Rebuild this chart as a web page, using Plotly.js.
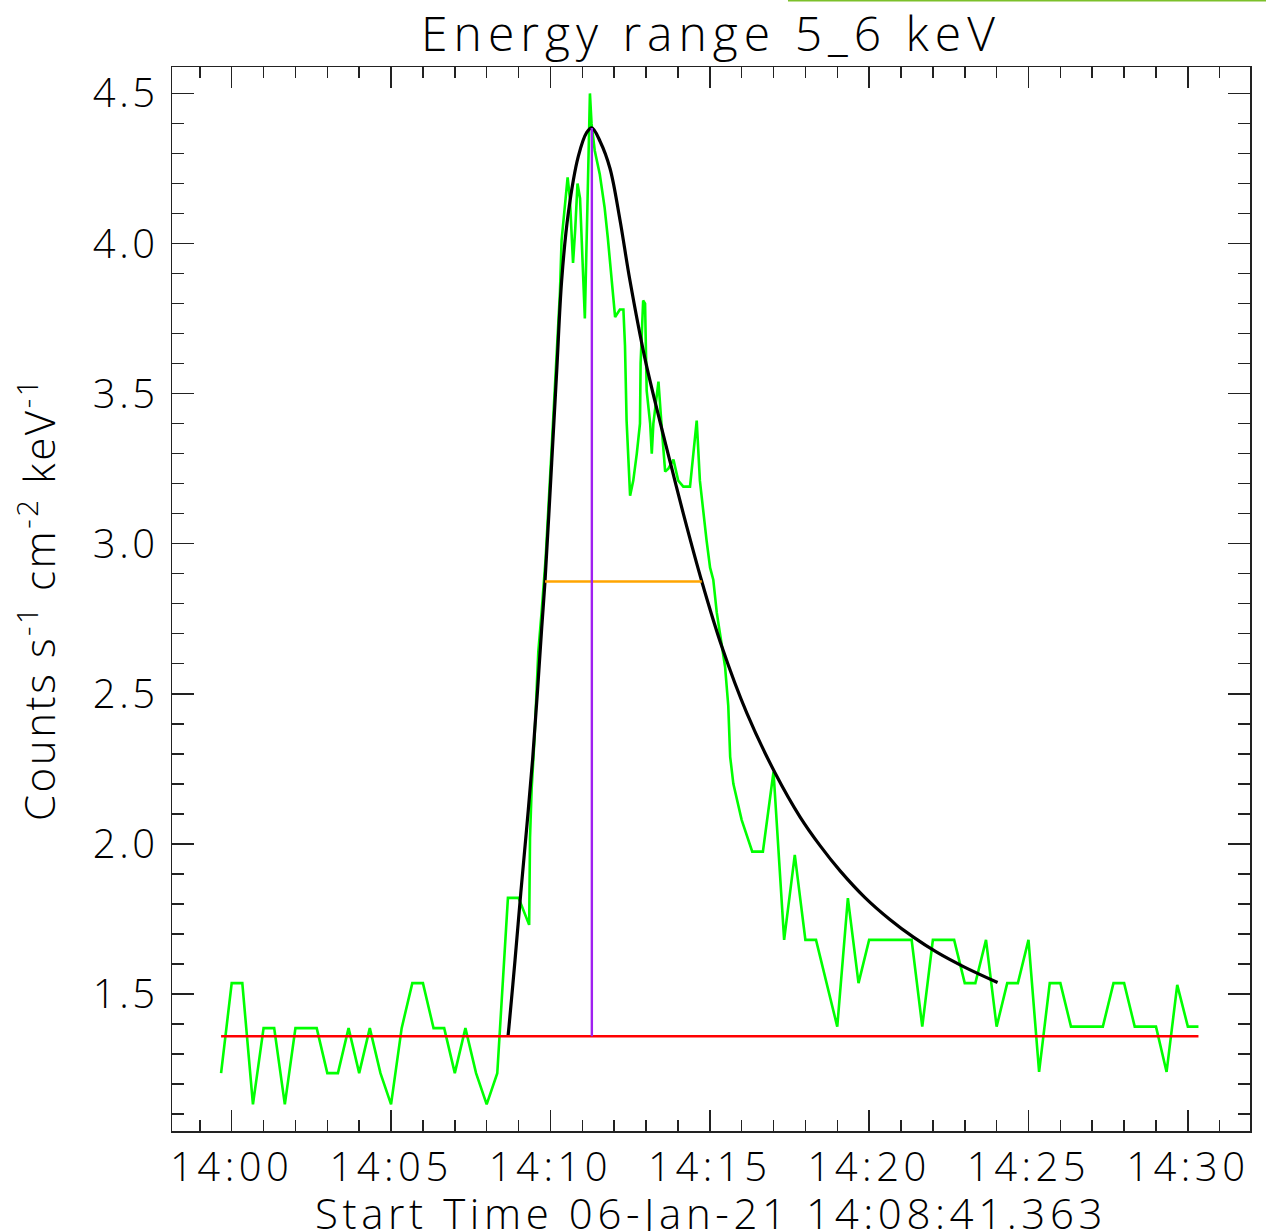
<!DOCTYPE html>
<html><head><meta charset="utf-8">
<script src="https://cdn.plot.ly/plotly-3.0.1.min.js"></script>
<style>
html,body{margin:0;padding:0;background:#fff}
#chart{width:1266px;height:1231px}
#chart .xtick text{letter-spacing:4.5px}
#chart .ytick text{letter-spacing:3.5px}
#chart .gtitle{letter-spacing:6px}
#chart .annotation-text{letter-spacing:4.6px}
#chart .g-ytitle text{letter-spacing:2.6px}
</style>
</head><body><div id="chart"></div>
<script>
// ---- text ----
const titleText = 'Energy range 5_6 keV';
const xTitleText = 'Start Time 06-Jan-21 14:08:41.363';
const yTitleText = 'Counts s<sup>-1</sup> cm<sup>-2</sup> keV<sup>-1</sup>';

// ---- ticks ----
const xTickVals = [0, 5, 10, 15, 20, 25, 30];           // minutes after 14:00
const xTickText = ['14:00', '14:05', '14:10', '14:15', '14:20', '14:25', '14:30'];
const yTickVals = [1.5, 2.0, 2.5, 3.0, 3.5, 4.0, 4.5];
const yTickText = ['1.5', '2.0', '2.5', '3.0', '3.5', '4.0', '4.5'];

// ---- light curve (minutes after 14:00, counts s^-1 cm^-2 keV^-1) ----
const lcTime = [
  -0.333, 0.0, 0.333, 0.667, 1.0, 1.333, 1.667, 2.0, 2.333, 2.667,
  3.0, 3.333, 3.667, 4.0, 4.333, 4.667, 5.0, 5.333, 5.667, 6.0,
  6.333, 6.667, 7.0, 7.333, 7.667, 8.0, 8.333, 8.667, 9.0, 9.333,
  9.36, 9.41, 9.50, 9.57, 9.62, 9.73, 9.85, 10.04, 10.20, 10.30,
  10.35, 10.40, 10.54, 10.61, 10.66, 10.71, 10.78, 10.85, 10.93, 10.98,
  11.08, 11.16, 11.24, 11.29, 11.39, 11.55, 11.70, 11.80, 11.92, 12.03,
  12.18, 12.29, 12.34, 12.39, 12.50, 12.60, 12.71, 12.81, 12.83, 12.91,
  12.97, 13.02, 13.13, 13.18, 13.23, 13.39, 13.49, 13.60, 13.70, 13.86,
  14.01, 14.17, 14.38, 14.48, 14.59, 14.69, 14.80, 14.90, 15.01, 15.11,
  15.22, 15.38, 15.48, 15.58, 15.64, 15.74, 16.0, 16.333, 16.667, 17.0,
  17.333, 17.667, 18.0, 18.333, 18.667, 19.0, 19.333, 19.667, 20.0, 20.333,
  20.667, 21.0, 21.333, 21.667, 22.0, 22.333, 22.667, 23.0, 23.333, 23.667,
  24.0, 24.333, 24.667, 25.0, 25.333, 25.667, 26.0, 26.333, 26.667, 27.0,
  27.333, 27.667, 28.0, 28.333, 28.667, 29.0, 29.333, 29.667, 30.0, 30.333
];
const lcCounts = [
  1.236, 1.536, 1.536, 1.132, 1.386, 1.386, 1.132, 1.386, 1.386, 1.386,
  1.236, 1.236, 1.386, 1.236, 1.386, 1.236, 1.132, 1.386, 1.536, 1.536,
  1.386, 1.386, 1.236, 1.386, 1.236, 1.132, 1.236, 1.820, 1.820, 1.730,
  2.02, 2.18, 2.35, 2.51, 2.64, 2.78, 2.95, 3.32, 3.66, 3.84,
  4.01, 4.07, 4.22, 4.15, 4.02, 3.935, 4.05, 4.20, 4.15, 4.02,
  3.75, 4.12, 4.50, 4.40, 4.31, 4.23, 4.12, 4.02, 3.88, 3.755,
  3.78, 3.78, 3.66, 3.41, 3.16, 3.21, 3.30, 3.40, 3.60, 3.81,
  3.80, 3.51, 3.40, 3.30, 3.40, 3.54, 3.39, 3.24, 3.25, 3.28,
  3.21, 3.19, 3.19, 3.30, 3.41, 3.21, 3.10, 3.01, 2.92, 2.88,
  2.77, 2.66, 2.59, 2.46, 2.29, 2.20, 2.08, 1.974, 1.974, 2.24,
  1.68, 1.963, 1.68, 1.68, 1.536, 1.391, 1.819, 1.536, 1.68, 1.68,
  1.68, 1.68, 1.68, 1.391, 1.68, 1.68, 1.68, 1.536, 1.536, 1.68,
  1.391, 1.536, 1.536, 1.68, 1.24, 1.536, 1.536, 1.391, 1.391, 1.391,
  1.391, 1.536, 1.536, 1.391, 1.391, 1.391, 1.24, 1.53, 1.391, 1.391
];

// ---- fitted flare profile ----
const fitTime = [
  8.67, 8.70, 8.89, 9.07, 9.26, 9.44, 9.59, 9.73, 9.83, 10.04,
  10.20, 10.355, 10.56, 10.875, 11.14, 11.30, 11.56, 11.87, 12.18, 12.49,
  12.96, 13.43, 13.81, 14.17, 14.75, 15.375, 16.16, 17.05, 17.83, 18.46,
  19.09, 19.87, 20.65, 21.39, 22.12, 22.96, 24.03
];
const fitCounts = [
  1.359, 1.391, 1.613, 1.836, 2.058, 2.28, 2.502, 2.724, 2.874, 3.27,
  3.58, 3.88, 4.10, 4.29, 4.37, 4.385, 4.34, 4.25, 4.08, 3.88,
  3.62, 3.41, 3.25, 3.10, 2.874, 2.658, 2.436, 2.236, 2.090, 1.994,
  1.910, 1.821, 1.748, 1.689, 1.639, 1.591, 1.538
];

// ---- background, peak and FWHM markers ----
const bgTime = [-0.333, 30.333];
const bgLevel = [1.359, 1.359];
const peakTime = [11.30, 11.30];
const peakRange = [1.359, 4.385];
const fwhmTime = [9.83, 14.75];
const fwhmLevel = [2.874, 2.874];

const FONT = {family: '"Open Sans", "Liberation Sans", sans-serif', color: '#000', weight: 300};

const traces = [
  {x: lcTime, y: lcCounts, type: 'scatter', mode: 'lines',
   line: {color: '#00ff00', width: 2.6}, hoverinfo: 'skip'},
  {x: fitTime, y: fitCounts, type: 'scatter', mode: 'lines',
   line: {color: '#000000', width: 3.2, shape: 'spline', smoothing: 1}, hoverinfo: 'skip'},
  {x: bgTime, y: bgLevel, type: 'scatter', mode: 'lines',
   line: {color: '#ff0000', width: 2.6}, hoverinfo: 'skip'},
  {x: fwhmTime, y: fwhmLevel, type: 'scatter', mode: 'lines',
   line: {color: '#ffa500', width: 2.4}, hoverinfo: 'skip'},
  {x: peakTime, y: peakRange, type: 'scatter', mode: 'lines',
   line: {color: '#a020f0', width: 2.4}, hoverinfo: 'skip'}
];

const axisCommon = {
  showgrid: false, zeroline: false, showline: true, linecolor: '#222', linewidth: 1.5,
  mirror: 'ticks', ticks: 'inside', tickwidth: 1.5, tickcolor: '#222',
  tickfont: Object.assign({}, FONT, {size: 40})
};

const layout = {
  width: 1266, height: 1231,
  margin: {l: 172, r: 16, t: 67, b: 100},
  paper_bgcolor: '#fff', plot_bgcolor: '#fff',
  showlegend: false,
  font: FONT,
  title: {text: titleText, font: Object.assign({}, FONT, {size: 48}),
          x: 0.5, xref: 'paper', xanchor: 'center', y: 0.972, yref: 'container', yanchor: 'middle'},
  xaxis: Object.assign({}, axisCommon, {
    range: [-1.873, 31.95],
    tickmode: 'array', tickvals: xTickVals, ticktext: xTickText, ticklen: 21,
    minor: {tickmode: 'linear', tick0: 0, dtick: 1, ticks: 'inside', ticklen: 11, tickwidth: 1.5, tickcolor: '#222', showgrid: false}
  }),
  yaxis: Object.assign({}, axisCommon, {
    range: [1.0433, 4.588],
    tickmode: 'array', tickvals: yTickVals, ticktext: yTickText, ticklen: 22,
    ticklabelstandoff: 4,
    minor: {tickmode: 'linear', tick0: 0, dtick: 0.1, ticks: 'inside', ticklen: 12, tickwidth: 1.5, tickcolor: '#222', showgrid: false},
    title: {text: yTitleText, font: Object.assign({}, FONT, {size: 42}), standoff: 34}
  }),
  annotations: [
    {text: xTitleText, xref: 'paper', yref: 'paper', x: 0.5, y: -0.0765,
     xanchor: 'center', yanchor: 'middle', showarrow: false,
     font: Object.assign({}, FONT, {size: 42})}
  ],
  shapes: [
    {type: 'line', xref: 'paper', yref: 'paper', x0: 0.5714, x1: 1.015, y0: 1.0625, y1: 1.0625,
     line: {color: '#7cc02a', width: 2}}
  ]
};

Plotly.newPlot('chart', traces, layout, {displayModeBar: false, staticPlot: true});
</script>
</body></html>
